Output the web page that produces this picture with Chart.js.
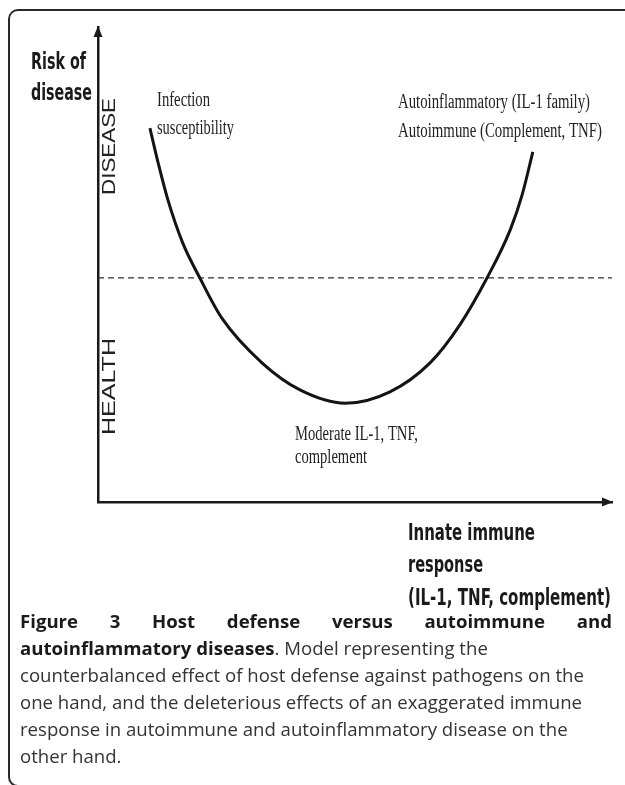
<!DOCTYPE html>
<html>
<head>
<meta charset="utf-8">
<script src="https://cdn.jsdelivr.net/npm/chart.js@4.4.1/dist/chart.umd.min.js"></script>
<style>
  html, body { margin: 0; padding: 0; background: #fff; }
  .page { position: relative; width: 625px; height: 785px; overflow: hidden; }
  .frame {
    position: absolute; left: 8px; top: 9px; width: 700px; height: 778px;
    border-top: 2px solid #2a2a2a; border-left: 2px solid #2a2a2a; border-bottom: 2px solid #2a2a2a;
    border-radius: 10px 0 0 10px; box-sizing: border-box;
  }
  .chart-box { position: absolute; left: 0; top: 0; width: 625px; height: 630px; }
  .caption {
    position: absolute; left: 20px; top: 607px; width: 592px;
    font-family: "Open Sans", sans-serif; font-size: 18.6px; line-height: 27px; color: #333;
  }
  .caption .line { white-space: nowrap; }
  .caption .first { display: flex; justify-content: space-between; font-weight: bold; color: #1a1a1a; }
  .caption b { color: #1a1a1a; }
</style>
</head>
<body>
<div class="page">
  <div class="frame"></div>
  <div class="chart-box"><canvas id="grafico"></canvas></div>
  <div class="caption">
    <div class="line first"><span>Figure</span><span>3</span><span>Host</span><span>defense</span><span>versus</span><span>autoimmune</span><span>and</span></div>
    <div class="line"><b>autoinflammatory diseases</b>. Model representing the</div>
    <div class="line">counterbalanced effect of host defense against pathogens on the</div>
    <div class="line">one hand, and the deleterious effects of an exaggerated immune</div>
    <div class="line">response in autoimmune and autoinflammatory disease on the</div>
    <div class="line">other hand.</div>
  </div>
</div>
<script>
// innate immune response (x, 0-100) vs risk of disease (y, 0-100)
const respostaImune = [10.1, 11.7, 13.6, 16.5, 19.8, 24.1, 31.9, 39.3, 48.1, 56.8, 64.6, 70.4, 75.7, 80.2, 82.5, 84.6];
const riscoDoenca = [78.7, 71.4, 63.6, 54.5, 47.2, 38.7, 29.3, 23.6, 20.8, 23.2, 29.3, 37.3, 47.2, 57.3, 64.6, 73.7];
const limiteSaude = 47.2;
const eixoX = [0, 100];
const eixoY = [0, 100];

// text drawn squeezed to a given width
function textoAjustado(ctx, texto, x, y, fonte, largura, cor) {
  ctx.save();
  ctx.font = fonte;
  let w = ctx.measureText(texto).width;
  ctx.translate(x, y);
  ctx.scale(largura / w, 1);
  ctx.fillStyle = cor;
  ctx.textBaseline = "alphabetic";
  ctx.textAlign = "left";
  ctx.fillText(texto, 0, 0);
  ctx.restore();
}

function textoVertical(ctx, texto, cx, cy, fonte, comprimento, cor) {
  ctx.save();
  ctx.font = fonte;
  let w = ctx.measureText(texto).width;
  ctx.translate(cx, cy);
  ctx.rotate(-Math.PI / 2);
  ctx.scale(comprimento / w, 1);
  ctx.fillStyle = cor;
  ctx.textAlign = "center";
  ctx.textBaseline = "middle";
  ctx.fillText(texto, 0, 0);
  ctx.restore();
}

const setas = {
  id: "setas",
  afterDraw: function (chart) {
    let ctx = chart.ctx;
    let x = chart.scales.x;
    let y = chart.scales.y;
    let x0 = x.getPixelForValue(eixoX[0]);
    let y0 = y.getPixelForValue(eixoY[0]);
    let topo = y.getPixelForValue(eixoY[1]);
    let dir = x.getPixelForValue(eixoX[1]);
    ctx.save();
    ctx.fillStyle = "#1a1a1a";
    ctx.beginPath();
    ctx.moveTo(x0, topo - 1);
    ctx.lineTo(x0 - 4.5, topo + 10);
    ctx.lineTo(x0 + 4.5, topo + 10);
    ctx.closePath();
    ctx.fill();
    ctx.beginPath();
    ctx.moveTo(dir + 1, y0);
    ctx.lineTo(dir - 10, y0 - 4.5);
    ctx.lineTo(dir - 10, y0 + 4.5);
    ctx.closePath();
    ctx.fill();
    ctx.restore();
  }
};

const rotulos = {
  id: "rotulos",
  afterDraw: function (chart) {
    let ctx = chart.ctx;
    let negrito = "bold 23px 'Liberation Sans Narrow', 'DejaVu Sans Condensed', sans-serif";
    let serifa = "20px 'Liberation Serif', serif";
    let sans = "19px 'Liberation Sans', sans-serif";
    textoAjustado(ctx, "Risk of", 31, 69, negrito, 55, "#1a1a1a");
    textoAjustado(ctx, "disease", 31, 100, negrito, 61, "#1a1a1a");
    textoVertical(ctx, "DISEASE", 110, 146.5, sans, 97, "#222");
    textoVertical(ctx, "HEALTH", 110, 386.5, sans, 97, "#222");
    textoAjustado(ctx, "Infection", 157, 106, serifa, 53, "#222");
    textoAjustado(ctx, "susceptibility", 157, 134, serifa, 77, "#222");
    textoAjustado(ctx, "Autoinflammatory (IL-1 family)", 398, 108, serifa, 192, "#222");
    textoAjustado(ctx, "Autoimmune (Complement, TNF)", 398, 137, serifa, 204, "#222");
    textoAjustado(ctx, "Moderate IL-1, TNF,", 295, 440, serifa, 123, "#222");
    textoAjustado(ctx, "complement", 295, 463, serifa, 72, "#222");
    textoAjustado(ctx, "Innate immune", 408, 540, negrito, 127, "#1a1a1a");
    textoAjustado(ctx, "response", 408, 572, negrito, 75, "#1a1a1a");
    textoAjustado(ctx, "(IL-1, TNF, complement)", 408, 605, negrito, 203, "#1a1a1a");
  }
};

document.addEventListener("DOMContentLoaded", function () {
  let pontosCurva = respostaImune.map(function (v, i) {
    return { x: v, y: riscoDoenca[i] };
  });
  let pontosLimite = [
    { x: eixoX[0], y: limiteSaude },
    { x: eixoX[1], y: limiteSaude }
  ];

  const config = {
    type: "scatter",
    data: {
      datasets: [
        {
          label: "Risk of disease",
          data: pontosCurva,
          showLine: true,
          borderColor: "#141414",
          borderWidth: 3,
          pointRadius: 0,
          cubicInterpolationMode: "monotone",
          fill: false
        },
        {
          label: "Health / disease",
          data: pontosLimite,
          showLine: true,
          borderColor: "#333",
          borderWidth: 1.3,
          borderDash: [6, 4],
          pointRadius: 0,
          fill: false
        }
      ]
    },
    plugins: [setas, rotulos],
    options: {
      responsive: true,
      maintainAspectRatio: false,
      animation: false,
      layout: { padding: { left: 98, top: 27, right: 13, bottom: 128 } },
      plugins: {
        legend: { display: false },
        tooltip: { enabled: false }
      },
      scales: {
        x: {
          type: "linear",
          min: eixoX[0],
          max: eixoX[1],
          grid: { display: false, drawTicks: false },
          ticks: { display: false },
          border: { display: true, color: "#1a1a1a", width: 2.5 }
        },
        y: {
          type: "linear",
          min: eixoY[0],
          max: eixoY[1],
          grid: { display: false, drawTicks: false },
          ticks: { display: false },
          border: { display: true, color: "#1a1a1a", width: 2.5 }
        }
      }
    }
  };

  new Chart(document.getElementById("grafico"), config);
});
</script>
</body>
</html>
